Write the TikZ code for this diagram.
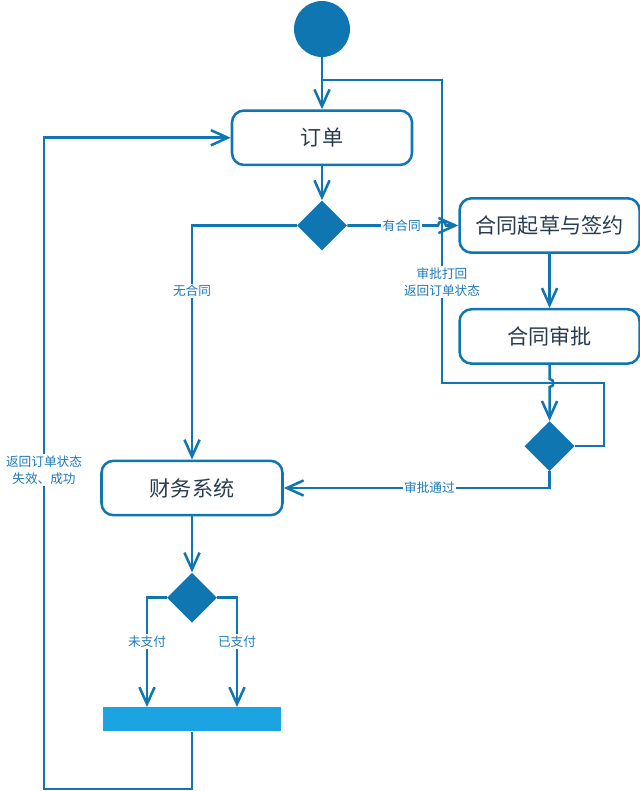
\documentclass[tikz,border=0pt]{standalone}
\usepackage{fontspec}
\setmainfont{Noto Sans CJK SC}
\usepackage{xcolor}
\usepackage{tikz}
\usetikzlibrary{positioning,shapes.geometric,arrows.meta}
\definecolor{flowblue}{RGB}{16,118,178}
\definecolor{barblue}{RGB}{27,163,226}
\definecolor{boxtext}{RGB}{40,60,80}
\definecolor{lbltext}{RGB}{28,122,184}

\begin{document}
\begin{tikzpicture}[
  node distance=13mm,
  box/.style={rectangle, draw=flowblue, rounded corners=3mm, line width=1.8pt, minimum width=4.5cm, minimum height=1.36cm, text=boxtext, font=\fontsize{15}{17}\selectfont},
  choice/.style={diamond, fill=flowblue, inner sep=0pt, minimum width=1.25cm, minimum height=1.25cm},
  lbl/.style={fill=white, text=lbltext, inner sep=1pt, align=center, font=\fontsize{9}{12}\selectfont},
  flow/.style={draw=flowblue, line width=1.8pt},
  arr/.style={flow, -{Straight Barb[length=4.2mm, width=3.8mm]}}
]
\useasboundingbox (0,0) rectangle (16,-19.775);
\node[circle, fill=flowblue, minimum size=1.4cm, inner sep=0pt] (start) at (8.05,-0.725) {};
\node[box, below=1.3cm of start] (order) {订单};
\node[choice, below=0.85cm of order] (d1) {};
\node[box, right=2.775cm of d1] (contract) {合同起草与签约};
\node[box, below=1.35cm of contract] (review) {合同审批};
\node[choice, below=1.4cm of review] (d2) {};
\node[box, minimum width=4.525cm] (finance) at (4.8,-12.2) {财务系统};
\node[choice, below=1.4cm of finance] (d3) {};
\node[rectangle, fill=barblue, minimum width=4.45cm, minimum height=0.6cm, inner sep=0pt, below=2.1cm of d3] (bar) {};

\coordinate (rejR) at (15.1,-9.575);
\coordinate (rejL) at (11.05,-9.575);
\coordinate (rejT) at (11.05,-2.0);
\coordinate (botL) at (1.1,-19.725);

\draw[flow] (d2.east) -| (rejR) -- (rejL) -- node[lbl, pos=0.333]{审批打回\\返回订单状态} (rejT) -- (start |- rejT);
\draw[arr] (start) -- (order);
\draw[arr] (order) -- (d1);
\draw[arr] (d1.east) -- node[lbl, pos=0.6]{有合同} ([xshift=-0.1cm]d1 -| rejT) arc[start angle=180, end angle=0, radius=0.1cm] -- (contract.west);
\draw[arr] (d1.west) -| node[lbl, pos=0.64]{无合同} (finance.north);
\draw[arr] (contract) -- (review);
\draw[arr] (review.south) -- ([yshift=0.1cm]review.south |- rejL) arc[start angle=90, end angle=-90, radius=0.1cm] -- (d2.north);
\draw[arr] (d2.south) |- node[lbl, pos=0.726]{审批通过} (finance.east);
\draw[arr] (finance) -- (d3);
\draw[arr] (d3.west) -| node[lbl, pos=0.7]{未支付} ([xshift=-1.125cm]bar.north);
\draw[arr] (d3.east) -| node[lbl, pos=0.7]{已支付} ([xshift=1.125cm]bar.north);
\draw[arr] (bar.south) |- (botL) -- node[lbl, pos=0.49]{返回订单状态\\失效、成功} (botL |- order) -- (order.west);
\end{tikzpicture}
\end{document}
